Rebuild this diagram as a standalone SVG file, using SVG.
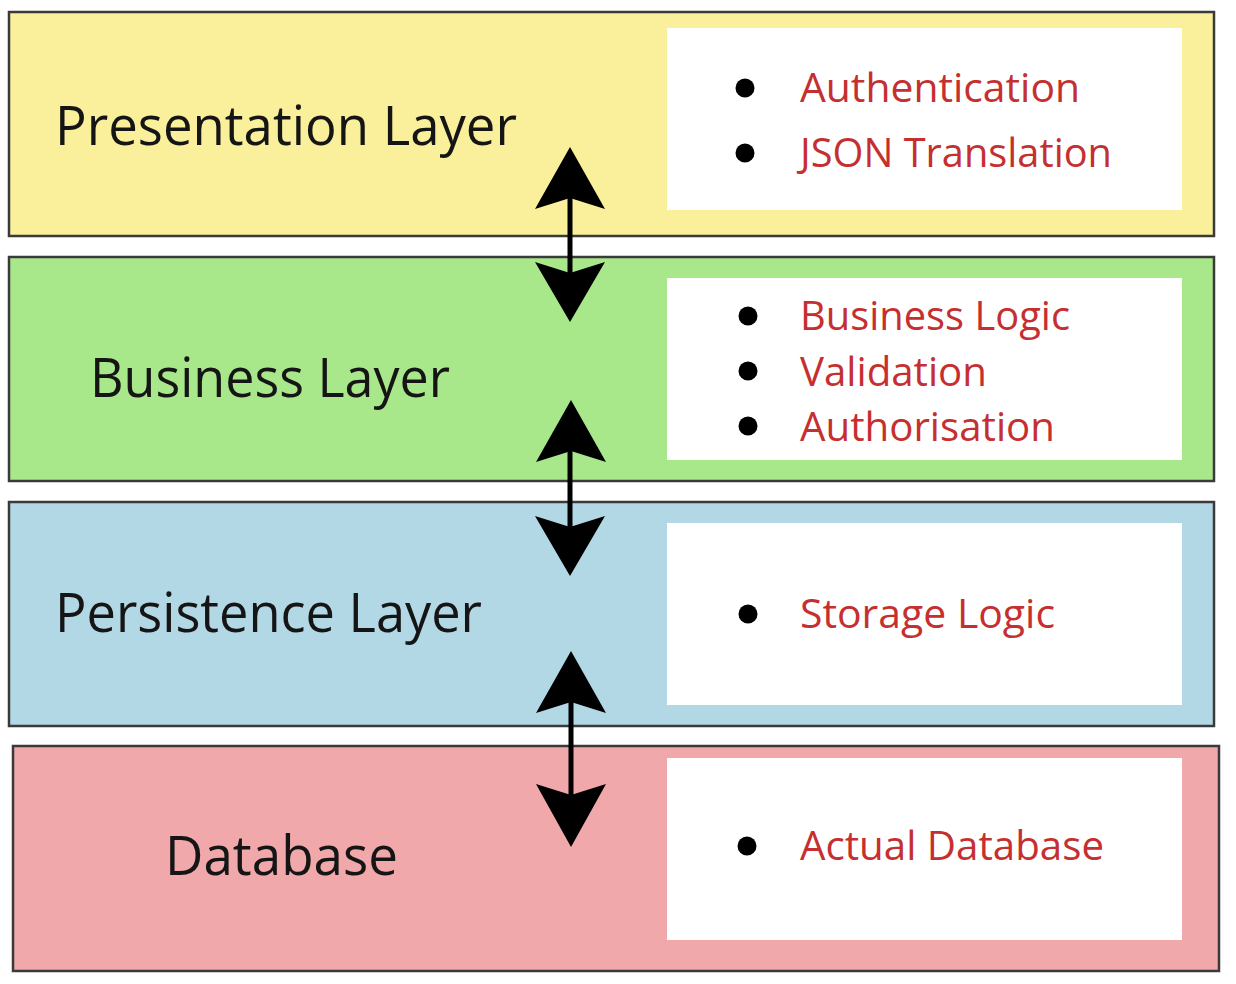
<svg xmlns="http://www.w3.org/2000/svg" width="1236" height="984" viewBox="0 0 1236 984">
<style>
.layer{stroke:#3a3a3a;stroke-width:2.5}
.box{fill:#ffffff}
.title{font-family:"Open Sans","Liberation Sans",sans-serif;font-size:54px;fill:#151515}
.item{font-family:"Open Sans","Liberation Sans",sans-serif;font-size:41px;fill:#c62f2f}
.dot{fill:#000}
.shaft{stroke:#000;stroke-width:5}
.head{fill:#000}
</style>
<rect width="1236" height="984" fill="#ffffff"/>
<g id="presentation">
<rect class="layer" x="9" y="12" width="1205" height="224" fill="#faef9b"/>
<rect class="box" x="667" y="28" width="515" height="182"/>
<text class="title" x="55" y="145" textLength="462" lengthAdjust="spacingAndGlyphs">Presentation Layer</text>
<circle class="dot" cx="745" cy="88" r="9.5"/>
<circle class="dot" cx="745" cy="153" r="9.5"/>
<text class="item" x="800" y="102" textLength="280" lengthAdjust="spacingAndGlyphs">Authentication</text>
<text class="item" x="800" y="167" textLength="312" lengthAdjust="spacingAndGlyphs">JSON Translation</text>
</g>
<g id="business">
<rect class="layer" x="9" y="257" width="1205" height="224" fill="#a8e88a"/>
<rect class="box" x="667" y="278" width="515" height="182"/>
<text class="title" x="90" y="397" textLength="360" lengthAdjust="spacingAndGlyphs">Business Layer</text>
<circle class="dot" cx="748" cy="316" r="9.5"/>
<circle class="dot" cx="748" cy="371" r="9.5"/>
<circle class="dot" cx="748" cy="426" r="9.5"/>
<text class="item" x="800" y="330" textLength="270" lengthAdjust="spacingAndGlyphs">Business Logic</text>
<text class="item" x="800" y="386" textLength="187" lengthAdjust="spacingAndGlyphs">Validation</text>
<text class="item" x="800" y="441" textLength="255" lengthAdjust="spacingAndGlyphs">Authorisation</text>
</g>
<g id="persistence">
<rect class="layer" x="9" y="502" width="1205" height="224" fill="#b3d8e5"/>
<rect class="box" x="667" y="523" width="515" height="182"/>
<text class="title" x="55" y="632" textLength="427" lengthAdjust="spacingAndGlyphs">Persistence Layer</text>
<circle class="dot" cx="748" cy="614" r="9.5"/>
<text class="item" x="800" y="628" textLength="255" lengthAdjust="spacingAndGlyphs">Storage Logic</text>
</g>
<g id="database">
<rect class="layer" x="13" y="746" width="1206" height="225" fill="#f0a8aa"/>
<rect class="box" x="667" y="758" width="515" height="182"/>
<text class="title" x="165" y="875" textLength="233" lengthAdjust="spacingAndGlyphs">Database</text>
<circle class="dot" cx="747" cy="846" r="9.5"/>
<text class="item" x="800" y="860" textLength="304" lengthAdjust="spacingAndGlyphs">Actual Database</text>
</g>
<g id="connectors">
<line class="shaft" x1="570" y1="190" x2="570" y2="280"/>
<path class="head" d="M570 147 L605 209 L570 198 L535 209 Z"/>
<path class="head" d="M570 322 L605 262 L570 273 L535 262 Z"/>
<line class="shaft" x1="570" y1="443" x2="570" y2="533"/>
<path class="head" d="M571 400 L606 462 L571 451 L536 462 Z"/>
<path class="head" d="M570 576 L605 516 L570 527 L535 516 Z"/>
<line class="shaft" x1="571" y1="700" x2="571" y2="800"/>
<path class="head" d="M571 651 L606 713 L571 702 L536 713 Z"/>
<path class="head" d="M571 847 L606 784 L571 795 L536 784 Z"/>
</g>
</svg>
